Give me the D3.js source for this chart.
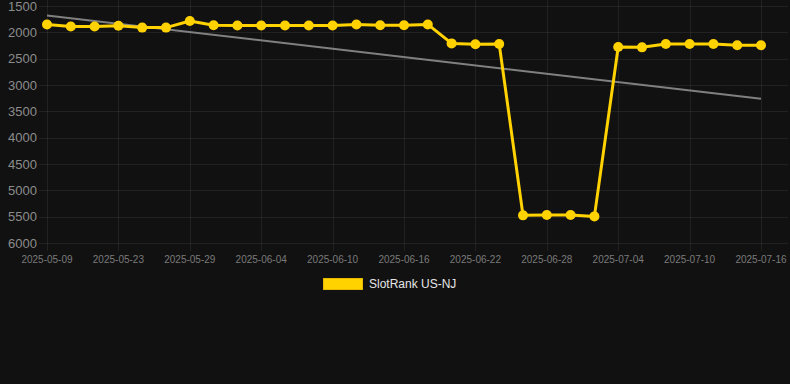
<!DOCTYPE html>
<html>
<head>
<meta charset="utf-8">
<script src="https://cdn.jsdelivr.net/npm/d3@7"></script>
<style>
  html, body { margin: 0; padding: 0; background: #111111; }
  #plot { width: 790px; height: 384px; }
  text { font-family: "Liberation Sans", Arial, Helvetica, sans-serif; }
</style>
</head>
<body>
<div id="plot"></div>
<script>
// dates on the category axis
var dates = ["2025-05-09", "2025-05-19", "2025-05-21", "2025-05-23", "2025-05-25", "2025-05-27",
  "2025-05-29", "2025-05-31", "2025-06-02", "2025-06-04", "2025-06-06", "2025-06-08",
  "2025-06-10", "2025-06-12", "2025-06-14", "2025-06-16", "2025-06-18", "2025-06-20",
  "2025-06-22", "2025-06-24", "2025-06-26", "2025-06-28", "2025-06-30", "2025-07-02",
  "2025-07-04", "2025-07-06", "2025-07-08", "2025-07-10", "2025-07-12", "2025-07-14", "2025-07-16"];

// SlotRank US-NJ values
var ranks = [1850, 1890, 1890, 1875, 1910, 1910, 1785, 1865, 1870, 1870, 1870, 1870,
  1870, 1850, 1865, 1865, 1850, 2210, 2225, 2220, 5475, 5470, 5470, 5495,
  2280, 2285, 2220, 2220, 2220, 2245, 2245];

// trend line end values
var trend = [1680, 3260];

var yTicks = [1500, 2000, 2500, 3000, 3500, 4000, 4500, 5000, 5500, 6000];
var xLabels = ["2025-05-09", "2025-05-23", "2025-05-29", "2025-06-04", "2025-06-10", "2025-06-16",
  "2025-06-22", "2025-06-28", "2025-07-04", "2025-07-10", "2025-07-16"];

var seriesName = "SlotRank US-NJ";

var width = 790, height = 384;
var margin = {left: 47, right: 761, top: 6, bottom: 243};

var svg = d3.select("#plot")
  .append("svg")
  .attr("width", width)
  .attr("height", height);

svg.append("rect")
  .attr("width", width)
  .attr("height", height)
  .attr("fill", "#111111");

// scales
var x = d3.scalePoint()
  .domain(dates)
  .range([margin.left, margin.right]);

var y = d3.scaleLinear()
  .domain([1500, 6000])
  .range([margin.top, margin.bottom]);

// horizontal grid
svg.append("g")
  .selectAll("line")
  .data(yTicks)
  .enter()
  .append("line")
  .attr("x1", margin.left - 8)
  .attr("x2", 788)
  .attr("y1", function(d) { return Math.round(y(d)) + 0.5; })
  .attr("y2", function(d) { return Math.round(y(d)) + 0.5; })
  .attr("stroke", "rgba(255,255,255,0.07)");

// vertical grid
svg.append("g")
  .selectAll("line")
  .data(xLabels)
  .enter()
  .append("line")
  .attr("x1", function(d) { return Math.round(x(d)) + 0.5; })
  .attr("x2", function(d) { return Math.round(x(d)) + 0.5; })
  .attr("y1", 0)
  .attr("y2", margin.bottom + 8)
  .attr("stroke", "rgba(255,255,255,0.07)");

// y labels
svg.append("g")
  .selectAll("text")
  .data(yTicks)
  .enter()
  .append("text")
  .attr("x", 37)
  .attr("y", function(d) { return y(d); })
  .attr("dy", "0.35em")
  .attr("text-anchor", "end")
  .attr("fill", "#8c8c8c")
  .style("font-size", "13px")
  .text(function(d) { return d; });

// x labels
svg.append("g")
  .selectAll("text")
  .data(xLabels)
  .enter()
  .append("text")
  .attr("x", function(d) { return x(d); })
  .attr("y", 263)
  .attr("text-anchor", "middle")
  .attr("fill", "#7a7a7a")
  .style("font-size", "10px")
  .text(function(d) { return d; });

// trend line
svg.append("line")
  .attr("x1", x(dates[0]))
  .attr("x2", x(dates[dates.length - 1]))
  .attr("y1", y(trend[0]))
  .attr("y2", y(trend[1]))
  .attr("stroke", "#808080")
  .attr("stroke-width", 2);

// series line
var line = d3.line()
  .x(function(d, i) { return x(dates[i]); })
  .y(function(d) { return y(d); });

svg.append("path")
  .datum(ranks)
  .attr("d", line)
  .attr("fill", "none")
  .attr("stroke", "#ffd200")
  .attr("stroke-width", 3)
  .attr("stroke-linejoin", "round");

svg.append("g")
  .selectAll("circle")
  .data(ranks)
  .enter()
  .append("circle")
  .attr("cx", function(d, i) { return x(dates[i]); })
  .attr("cy", function(d) { return y(d); })
  .attr("r", 5)
  .attr("fill", "#ffd200");

// legend
svg.append("rect")
  .attr("x", 323.5)
  .attr("y", 278.5)
  .attr("width", 39)
  .attr("height", 11)
  .attr("fill", "#ffd200")
  .attr("stroke", "#e6b800")
  .attr("stroke-width", 1);

svg.append("text")
  .attr("x", 369)
  .attr("y", 284)
  .attr("dy", "0.35em")
  .attr("fill", "#e6e6e6")
  .style("font-size", "12px")
  .text(seriesName);
</script>
</body>
</html>
